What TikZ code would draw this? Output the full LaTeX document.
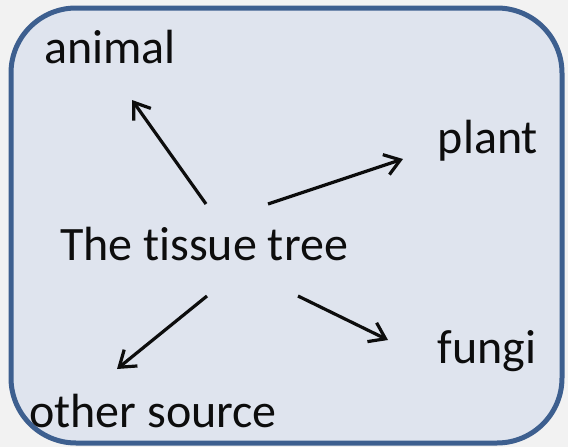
\documentclass[tikz,border=0pt]{standalone}
\usepackage{fontspec}
\setmainfont{Carlito}[RawFeature=-liga]
\usepackage{tikz}
\usetikzlibrary{arrows.meta, positioning, calc}
\usepackage{xcolor}
\definecolor{pagegray}{RGB}{242,242,242}
\definecolor{boxfill}{RGB}{223,228,238}
\definecolor{boxline}{RGB}{61,95,143}
\definecolor{inkblack}{RGB}{13,13,13}

\tikzset{
  label/.style={anchor=base, inner sep=0pt, text=inkblack, font=\fontsize{48}{57}\selectfont},
  arr/.style={-{Straight Barb[length=15pt, width=21pt, line width=3.2pt]}, line width=3.2pt, inkblack}
}

\begin{document}
\begin{tikzpicture}[x=1pt, y=-1pt]
  % page and box
  \fill[pagegray] (0,0) rectangle (568,447);
  \useasboundingbox (0,0) rectangle (568,447);
  \draw[boxline, fill=boxfill, line width=5pt, rounded corners=65pt] (11,8) rectangle (562,443);

  \node[label] (tree) at (204,260) {The tissue tree};
  \node[label] (animal) at (110,63) {animal};
  \node[label] (plant) at (488,153) {plant};
  \node[label] (fungi) at (487,363) {fungi};
  \node[label] (other) at (153,427) {other source};

  \draw[arr] ([shift={(2,-56)}]tree.base) -- ([shift={(22,37)}]animal.base);
  \draw[arr] ([shift={(64,-56)}]tree.base) -- ([shift={(-85,6)}]plant.base);
  \draw[arr] ([shift={(3,36)}]tree.base) -- ([shift={(-36,-58)}]other.base);
  \draw[arr] ([shift={(94,36)}]tree.base) -- ([shift={(-99,-23)}]fungi.base);
\end{tikzpicture}
\end{document}
